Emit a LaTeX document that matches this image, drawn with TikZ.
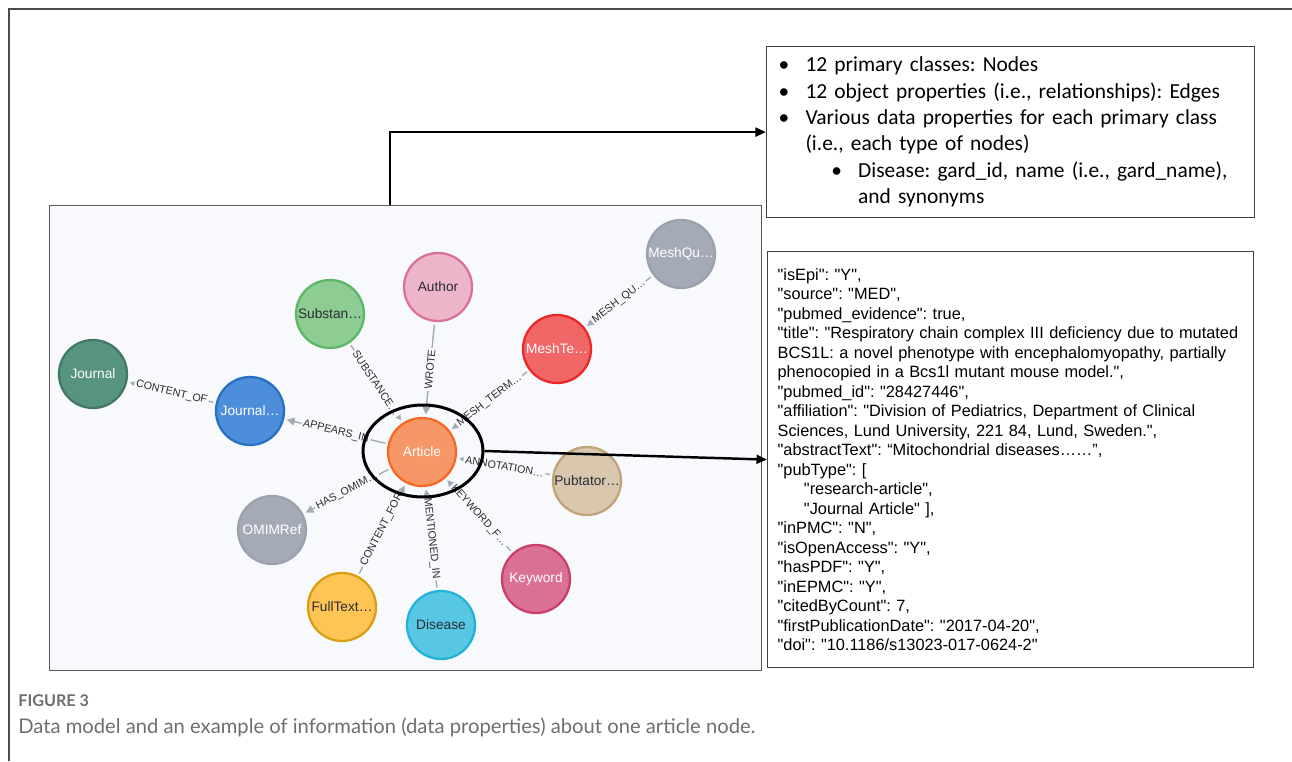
\documentclass[tikz,border=0pt]{standalone}
\usepackage{fontspec}
\setmainfont{Liberation Sans}
\newfontfamily\jsonfont{Liberation Sans}
\newfontfamily\calibrifont{Carlito}
\newfontfamily\captionfont{Lato}
\usetikzlibrary{arrows.meta,shapes.geometric}
\frenchspacing

\definecolor{bgfill}{HTML}{F8F9FC}
\definecolor{edgegray}{HTML}{A5ABB6}
\definecolor{labelink}{HTML}{2A2C34}
\definecolor{capgray}{HTML}{6E6E6E}
\definecolor{articlefill}{HTML}{F79767}\definecolor{articleline}{HTML}{F36924}
\definecolor{authorfill}{HTML}{ECB5C9}\definecolor{authorline}{HTML}{DA7298}
\definecolor{substfill}{HTML}{8DCC93}\definecolor{substline}{HTML}{5DB665}
\definecolor{journalfill}{HTML}{569480}\definecolor{journalline}{HTML}{447666}
\definecolor{jinfofill}{HTML}{4C8EDA}\definecolor{jinfoline}{HTML}{2870C2}
\definecolor{grayfill}{HTML}{A5ABB6}\definecolor{grayline}{HTML}{9AA1AC}
\definecolor{meshfill}{HTML}{F16667}\definecolor{meshline}{HTML}{EB2728}
\definecolor{pubfill}{HTML}{D9C8AE}\definecolor{publine}{HTML}{C0A378}
\definecolor{keyfill}{HTML}{DA7194}\definecolor{keyline}{HTML}{CC3C6C}
\definecolor{disfill}{HTML}{57C7E3}\definecolor{disline}{HTML}{23B3D7}
\definecolor{fullfill}{HTML}{FFC454}\definecolor{fullline}{HTML}{D7A013}

\begin{document}
\begin{tikzpicture}[x=0.02cm, y=-0.02cm, >={Triangle[length=6pt,width=5pt]},
    gnode/.style 2 args={circle, fill=#1, draw=#2, line width=1.3pt, minimum size=1.36cm,
        inner sep=0pt, font=\fontsize{7.8}{9}\selectfont},
    lighttxt/.style={text=white},
    darktxt/.style={text=labelink},
    link/.style={draw=edgegray, line width=0.8pt, -{Triangle[length=4.5pt,width=4.5pt]},
        shorten >=1.5pt, shorten <=1.5pt},
    rel/.style={sloped, fill=bgfill, inner sep=1pt, text=labelink,
        font=\fontsize{6.1}{7}\selectfont},
    infobox/.style={draw=black!75, line width=0.7pt, fill=white, anchor=north west, align=left},
    pointer/.style={->, line width=1.4pt}]
    \useasboundingbox (0,0) rectangle (1292,761);
    % Graph panel
    \node[draw=black!65, line width=0.6pt, fill=bgfill, anchor=north west, inner sep=0pt,
        minimum width=14.24cm, minimum height=9.3cm] (gbox) at (49,205) {};
    % Class nodes
    \node[gnode={articlefill}{articleline}, lighttxt] (article) at (422,452) {Article};
    \node[gnode={authorfill}{authorline}, darktxt] (author) at (438,287) {Author};
    \node[gnode={substfill}{substline}, darktxt] (substance) at (330,314) {Substan…};
    \node[gnode={journalfill}{journalline}, lighttxt] (journal) at (93,374) {Journal};
    \node[gnode={jinfofill}{jinfoline}, lighttxt] (journalinfo) at (250,411) {Journal…};
    \node[gnode={grayfill}{grayline}, lighttxt] (meshqual) at (681,254) {MeshQu…};
    \node[gnode={meshfill}{meshline}, lighttxt] (meshterm) at (557,349) {MeshTe…};
    \node[gnode={pubfill}{publine}, darktxt] (pubtator) at (587,481) {Pubtator…};
    \node[gnode={keyfill}{keyline}, lighttxt] (keyword) at (536,579) {Keyword};
    \node[gnode={disfill}{disline}, darktxt] (disease) at (441,625) {Disease};
    \node[gnode={fullfill}{fullline}, darktxt] (fulltext) at (342,607) {FullText…};
    \node[gnode={grayfill}{grayline}, lighttxt] (omim) at (272,530) {OMIMRef};
    % Relationships
    \draw[link] (author) -- node[rel] {WROTE} (article);
    \draw[link] (substance) -- node[rel] {SUBSTANCE…} (article);
    \draw[link] (meshterm) -- node[rel] {MESH\_TERM…} (article);
    \draw[link] (meshqual) -- node[rel] {MESH\_QU…} (meshterm);
    \draw[link] (article) -- node[rel] {APPEARS\_IN} (journalinfo);
    \draw[link] (journalinfo) -- node[rel] {CONTENT\_OF} (journal);
    \draw[link] (pubtator) -- node[rel] {ANNOTATION…} (article);
    \draw[link] (keyword) -- node[rel] {KEYWORD\_F…} (article);
    \draw[link] (disease) -- node[rel] {MENTIONED\_IN} (article);
    \draw[link] (fulltext) -- node[rel] {CONTENT\_FOR} (article);
    \draw[link] (article) -- node[rel] {HAS\_OMIM…} (omim);
    % Ring round the article node
    \node[draw, ellipse, line width=1.7pt, minimum width=2.4cm, minimum height=1.84cm,
        inner sep=0pt] (focus) at (423,451) {};
    % Summary box
    \node[infobox, minimum width=9.76cm, minimum height=3.42cm, inner xsep=0.24cm,
        text width=9.28cm, font=\calibrifont\fontsize{12.2}{15}\selectfont] (facts) at (766,46) {%
        \makebox[15.3pt][l]{•}12 primary classes: Nodes\\
        \makebox[15.3pt][l]{•}12 object properties (i.e., relationships): Edges\\
        \makebox[15.3pt][l]{•}Various data properties for each primary class\\
        \hspace*{15.3pt}(i.e., each type of nodes)\\
        \hspace*{30pt}\makebox[15.3pt][l]{•}Disease: gard\_id, name (i.e., gard\_name),\\
        \hspace*{45.3pt}and synonyms};
    % Article properties box
    \node[infobox, minimum width=9.72cm, minimum height=8.32cm, inner xsep=0.2cm,
        text width=9.32cm, font=\jsonfont\fontsize{9.3}{11.1}\selectfont] (props) at (767,251) {%
        "isEpi": "Y",\\
        "source": "MED",\\
        "pubmed\_evidence": true,\\
        \mbox{"title": "Respiratory chain complex III deficiency due to mutated}\\
        \mbox{BCS1L: a novel phenotype with encephalomyopathy, partially}\\
        phenocopied in a Bcs1l mutant mouse model.",\\
        "pubmed\_id": "28427446",\\
        "affiliation": "Division of Pediatrics, Department of Clinical\\
        Sciences, Lund University, 221 84, Lund, Sweden.",\\
        "abstractText": “Mitochondrial diseases……”,\\
        "pubType": [\\
        \hspace*{15pt}"research-article",\\
        \hspace*{15pt}"Journal Article" ],\\
        "inPMC": "N",\\
        "isOpenAccess": "Y",\\
        "hasPDF": "Y",\\
        "inEPMC": "Y",\\
        "citedByCount": 7,\\
        "firstPublicationDate": "2017-04-20",\\
        "doi": "10.1186/s13023-017-0624-2"};
    % Pointers
    \coordinate (tap) at (390,205);
    \draw[pointer] (tap) |- (facts.west);
    \draw[pointer] (focus.east) -- (props.west);
    % Caption
    \node[anchor=west, inner sep=0pt, text=capgray, font={\captionfont\bfseries\fontsize{9.2}{11}\selectfont}]
        (fignum) at (18,701) {FIGURE 3};
    \node[anchor=west, inner sep=0pt, text=capgray, font={\captionfont\fontsize{11.5}{13}\selectfont}]
        (figcap) at (18,727) {Data model and an example of information (data properties) about one article node.};
    % Page frame
    \draw[line width=0.6pt, black!70] (1292,9) -- (9,9) -- (9,761);
\end{tikzpicture}
\end{document}
